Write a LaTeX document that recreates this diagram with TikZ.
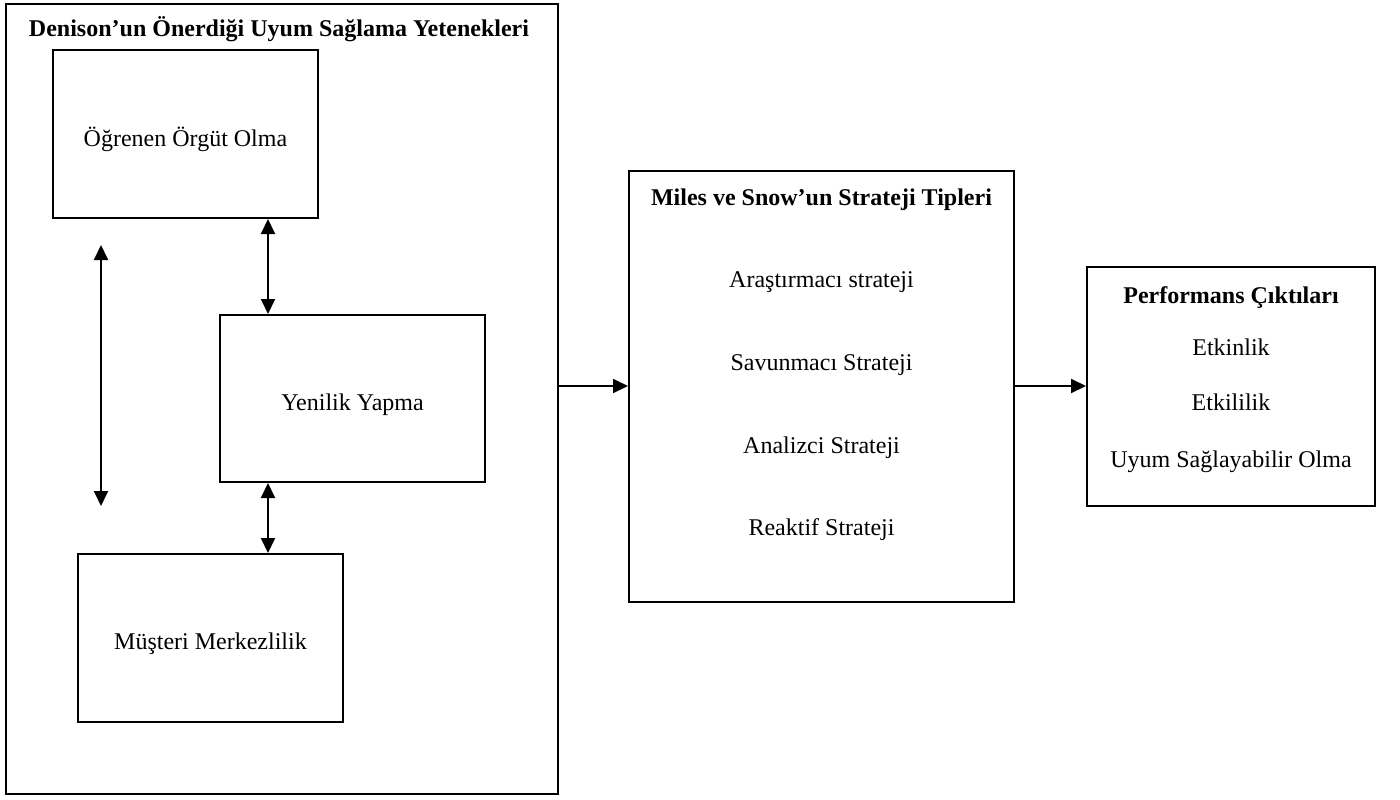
\documentclass[tikz,border=0pt]{standalone}
\usepackage{fontspec}
\setmainfont{Liberation Serif}
\usetikzlibrary{arrows.meta}
\begin{document}
\begin{tikzpicture}[x=1pt,y=-1pt,
  box/.style={draw, line width=2pt, inner sep=0pt},
  lbl/.style={font=\fontsize{24}{28}\selectfont, anchor=base, inner sep=0pt},
  ttl/.style={font=\fontsize{24}{28}\selectfont\bfseries, anchor=base, inner sep=0pt},
  conn/.style={line width=2pt, -{Triangle[length=15pt,width=14pt]}},
  dconn/.style={line width=2pt, {Triangle[length=15pt,width=14pt]}-{Triangle[length=15pt,width=14pt]}}]
\useasboundingbox (0,0) rectangle (1400,800);
% boxes
\node[box, line width=1.6pt, minimum width=552pt, minimum height=790pt] (outer) at (282,399) {};
\node[box, minimum width=265pt, minimum height=168pt] (ogr) at (185.5,134) {};
\node[box, minimum width=265pt, minimum height=167pt] (yen) at (352.5,398.5) {};
\node[box, minimum width=265pt, minimum height=168pt] (mus) at (210.5,638) {};
\node[box, minimum width=385pt, minimum height=431pt] (miles) at (821.5,386) {};
\node[box, minimum width=288pt, minimum height=239pt] (perf) at (1231,386) {};
% texts
\node[ttl] (outert) at (279,37) {Denison’un Önerdiği Uyum Sağlama Yetenekleri};
\node[lbl] (ogrt) at (185.5,146) {Öğrenen Örgüt Olma};
\node[lbl] (yent) at (352.5,410) {Yenilik Yapma};
\node[lbl] (must) at (210.5,649) {Müşteri Merkezlilik};
\node[ttl] (milest) at (821.5,205) {Miles ve Snow’un Strateji Tipleri};
\node[lbl] (m1) at (821.5,287) {Araştırmacı strateji};
\node[lbl] (m2) at (821.5,370) {Savunmacı Strateji};
\node[lbl] (m3) at (821.5,453) {Analizci Strateji};
\node[lbl] (m4) at (821.5,535) {Reaktif Strateji};
\node[ttl] (perft) at (1231,303) {Performans Çıktıları};
\node[lbl] (p1) at (1231,355) {Etkinlik};
\node[lbl] (p2) at (1231,410) {Etkililik};
\node[lbl] (p3) at (1231,467) {Uyum Sağlayabilir Olma};
% connectors
\coordinate (ax) at (268,0);
\coordinate (v1) at (101,245);
\coordinate (v2) at (101,506);
\draw[dconn] (ogr.south -| ax) -- (yen.north -| ax);
\draw[dconn] (yen.south -| ax) -- (mus.north -| ax);
\draw[dconn] (v1) -- (v2);
\draw[conn] (miles.west -| outer.east) -- (miles.west);
\draw[conn] (miles.east) -- (perf.west);
\end{tikzpicture}
\end{document}
